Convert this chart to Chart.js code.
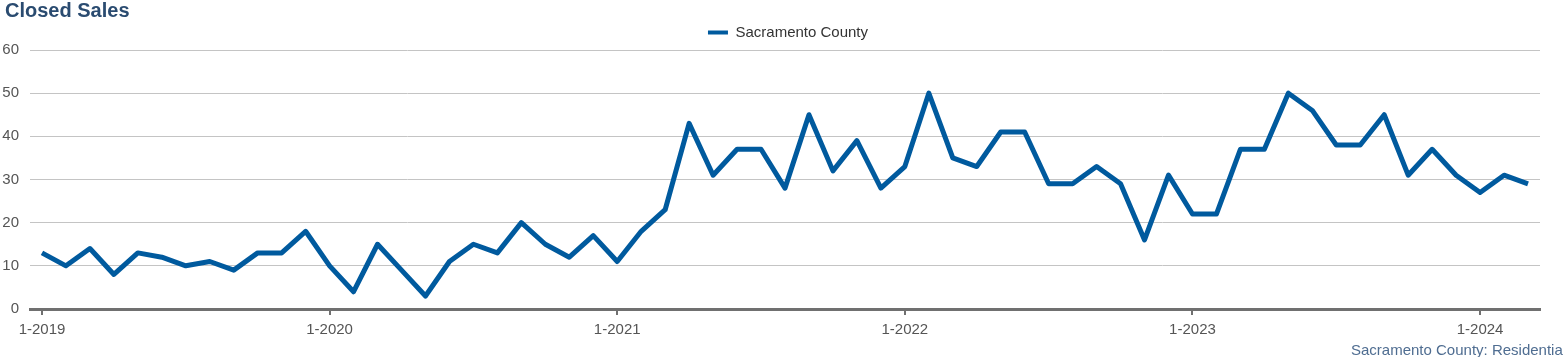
<!DOCTYPE html>
<html>
<head>
<meta charset="utf-8">
<script src="https://cdn.jsdelivr.net/npm/chart.js@4.4.1/dist/chart.umd.min.js"></script>
<style>
  html, body { margin: 0; padding: 0; background: #fff; overflow: hidden; }
  #wrap { position: relative; width: 1563px; height: 357px; overflow: hidden; }
  #c { position: absolute; left: 0; top: 0; }
  #title { position: absolute; left: 5px; top: -1px; font: bold 20px "Liberation Sans", Arial, sans-serif; color: #2a4b70; }
  #foot { position: absolute; left: 1351px; top: 341px; font: 15px "Liberation Sans", Arial, sans-serif; color: #4f6d91; white-space: nowrap; }
</style>
</head>
<body>
<div id="wrap">
  <canvas id="c" width="1563" height="357"></canvas>
  <div id="title">Closed Sales</div>
  <div id="foot">Sacramento County: Residential</div>
</div>
<script>
const seriesName = "Sacramento County";
const years = [2019, 2020, 2021, 2022, 2023, 2024];
const months = [];
for (const y of years) for (let m = 1; m <= 12; m++) months.push(m + "-" + y);
const categories = months.slice(0, 63);
const closedSales = [
  13, 10, 14, 8, 13, 12, 10, 11, 9, 13, 13, 18,
  10, 4, 15, 9, 3, 11, 15, 13, 20, 15, 12, 17,
  11, 18, 23, 43, 31, 37, 37, 28, 45, 32, 39, 28,
  33, 50, 35, 33, 41, 41, 29, 29, 33, 29, 16, 31,
  22, 22, 37, 37, 50, 46, 38, 38, 45, 31, 37, 31,
  27, 31, 29
];
const yTicks = [0, 10, 20, 30, 40, 50, 60];

const font = "'Liberation Sans', Arial, sans-serif";
const shiftLegend = {
  id: 'shiftLegend',
  afterLayout(chart) {
    if (chart.legend) { chart.legend.left += 18; chart.legend.right += 18; }
  }
};
new Chart(document.getElementById('c'), {
  type: 'line',
  plugins: [shiftLegend],
  data: {
    labels: categories,
    datasets: [{
      label: seriesName,
      data: closedSales,
      borderColor: '#005a9e',
      backgroundColor: '#005a9e',
      borderWidth: 5,
      pointRadius: 0,
      tension: 0,
      fill: false,
      borderJoinStyle: 'round'
    }]
  },
  options: {
    responsive: false,
    animation: false,
    layout: { padding: { left: 0, right: 23, top: 19, bottom: 12 } },
    plugins: {
      legend: {
        display: true,
        position: 'top',
        labels: {
          font: { family: font, size: 15 },
          color: '#333',
          boxWidth: 20,
          boxHeight: 4,
          padding: 6,
          generateLabels: (chart) => Chart.defaults.plugins.legend.labels.generateLabels(chart)
            .map(l => Object.assign(l, { lineWidth: 0 }))
        }
      },
      tooltip: { enabled: false }
    },
    scales: {
      x: {
        type: 'category',
        offset: true,
        afterBuildTicks: (scale) => {
          scale.ticks = scale.ticks.filter(t => t.value % 12 === 0);
        },
        afterFit: (scale) => { scale.paddingLeft = 0; scale.paddingRight = 0; },
        ticks: {
          autoSkip: false,
          maxRotation: 0,
          font: { family: font, size: 15 },
          color: '#555',
          padding: 6
        },
        grid: {
          offset: false,
          drawOnChartArea: false,
          drawTicks: true,
          tickLength: 6,
          color: '#707070',
          lineWidth: 2
        },
        border: { display: true, color: '#707070', width: 3 }
      },
      y: {
        min: 0,
        max: 60,
        afterBuildTicks: (scale) => {
          scale.ticks = yTicks.map(v => ({ value: v }));
        },
        afterFit: (scale) => { scale.width = 30; },
        ticks: {
          font: { family: font, size: 15 },
          color: '#555',
          padding: 11
        },
        grid: {
          color: '#c4c4c4',
          lineWidth: 1,
          drawTicks: false
        },
        border: { display: false }
      }
    }
  }
});
</script>
</body>
</html>
